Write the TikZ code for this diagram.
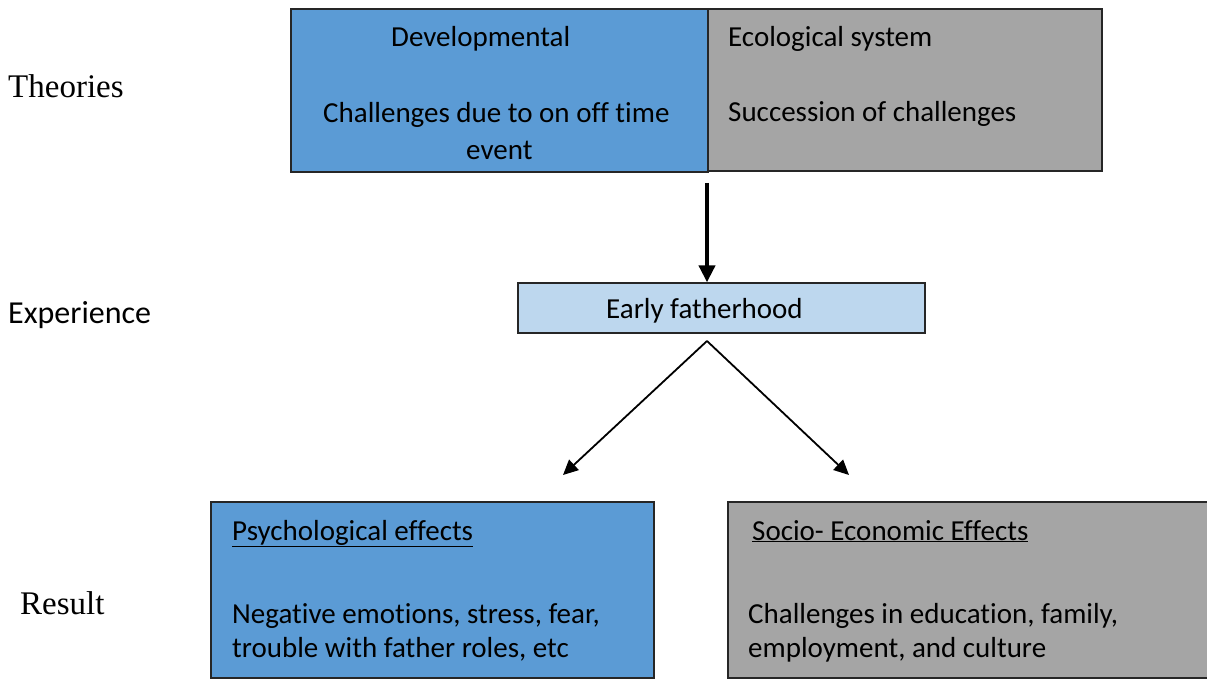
\documentclass[tikz,border=0pt]{standalone}
\usepackage{fontspec}
\setmainfont{Carlito}[Ligatures=NoCommon]
\newfontfamily\timesfont{Liberation Serif}
\usetikzlibrary{arrows.meta}
\definecolor{devblue}{HTML}{5B9BD5}
\definecolor{ecogray}{HTML}{A5A5A5}
\definecolor{earlyblue}{HTML}{BDD7EE}

\begin{document}
\begin{tikzpicture}[x=1pt,y=-1pt]
\tikzset{
	box/.style={draw=black!85, line width=1.3pt, inner sep=0pt},
	txt/.style={inner sep=0pt, anchor=base west, font=\fontsize{29}{34}\selectfont},
	side/.style={inner sep=0pt, anchor=base west},
	thickarrow/.style={line width=4pt, -{Triangle[length=17pt,width=16pt]}},
	thinarrow/.style={line width=1.8pt, -{Triangle[length=15pt,width=14pt]}}
}
\useasboundingbox (0,0) rectangle (1207,679);

 % les cases
  \node[box, fill=devblue, minimum width=417pt, minimum height=163pt] (dev) at (499.5,90.5) {};
  \node[box, fill=ecogray, minimum width=394pt, minimum height=162pt] (eco) at (905,90) {};
  \node[box, fill=earlyblue, minimum width=407pt, minimum height=50pt] (early) at (721.5,308) {};
  \node[box, fill=devblue, minimum width=443pt, minimum height=176pt] (psy) at (432.5,590) {};
  \node[box, fill=ecogray, minimum width=484pt, minimum height=176pt] (soc) at (970,590) {};

 % du texte
  \node[side, font=\timesfont\fontsize{33}{38}\selectfont] (theories) at (8,98) {Theories};
  \node[side, font=\fontsize{32}{38}\selectfont] (experience) at (8,323) {Experience};
  \node[side, font=\timesfont\fontsize{33}{38}\selectfont] (result) at (20,614) {Result};

  \node[txt] (devtitle) at (391,47) {Developmental};
  \node[txt] (devline1) at (323,123) {Challenges due to on off time};
  \node[txt] (devline2) at (466,160) {event};
  \node[txt] (ecotitle) at (728,47) {Ecological system};
  \node[txt] (ecoline) at (728,122) {Succession of challenges};
  \node[txt] (earlytext) at (606,318) {Early fatherhood};
  \node[txt] (psytitle) at (232,540) {\underline{Psychological effects}};
  \node[txt] (psyline1) at (232,623) {Negative emotions,\ stress, fear,};
  \node[txt] (psyline2) at (232,657) {trouble with father roles, etc};
  \node[txt] (soctitle) at (752,540) {\underline{Socio- Economic Effects}};
  \node[txt] (socline1) at (748,623) {Challenges in education,\ family,};
  \node[txt] (socline2) at (748,657) {employment, and culture};

 % les flèches
  \coordinate (devfoot) at (707,183);
  \coordinate (fork) at (707,341);
  \coordinate (psyend) at (563,475);
  \coordinate (socend) at (849,475);
  \draw[thickarrow] (devfoot) -- (devfoot |- early.north);
  \draw[thinarrow] (fork) -- (psyend);
  \draw[thinarrow] (fork) -- (socend);
\end{tikzpicture}
\end{document}
